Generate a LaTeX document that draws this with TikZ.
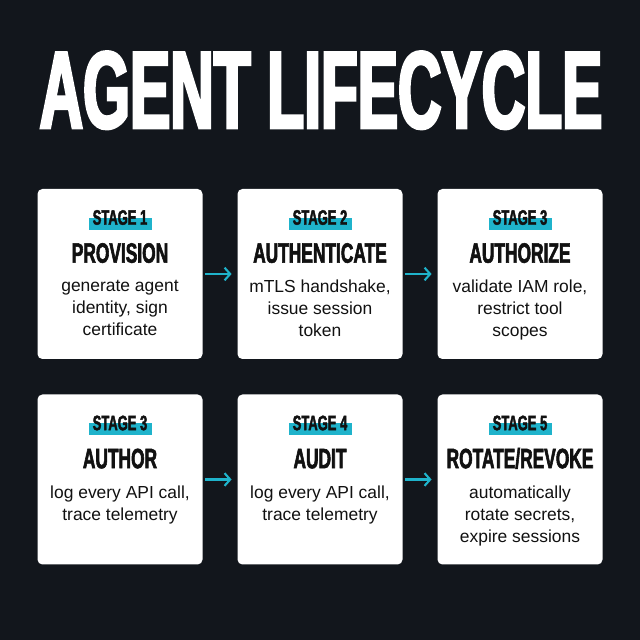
\documentclass[tikz,border=0pt]{standalone}
\usepackage{fontspec}
\setmainfont{Liberation Sans}
\newfontfamily\headfont{Liberation Sans}[FakeStretch=0.55,FakeBold=2.5]
\newfontfamily\stagefont{Liberation Sans}[FakeStretch=0.62,FakeBold=2]
\usepackage{tikz}
\usetikzlibrary{positioning, arrows.meta}
\definecolor{bgdark}{HTML}{12161C}
\definecolor{tealhl}{HTML}{1FB3CB}
\definecolor{inkdark}{HTML}{111111}
\tikzset{
	% white card
	card/.style={
		fill=white,
		rounded corners=3.5pt,
		minimum width=4.125cm,
		minimum height=4.25cm,
		inner sep=0pt
	}, %
	% small stage tag
	stagelbl/.style={
		anchor=base,
		inner sep=0pt,
		text=inkdark,
		font=\stagefont\bfseries\fontsize{14.9}{15}\selectfont
	}, %
	% stage name
	phase/.style={
		anchor=base,
		inner sep=0pt,
		text=inkdark,
		font=\stagefont\bfseries\fontsize{19.9}{20}\selectfont
	}, %
	% description
	note/.style={
		anchor=north,
		inner sep=0pt,
		align=center,
		text=inkdark,
		font=\fontsize{12.4}{15.65}\selectfont
	}, %
	% arrow between cards
	flow/.style={
		draw=tealhl,
		line width=1.5pt,
		-{Straight Barb[length=4pt,width=9pt]},
		shorten <=1.5pt,
		shorten >=4pt
	} %
}

\begin{document}
\begin{tikzpicture}
			% fondo
			\useasboundingbox (0,0) rectangle (16,16);
			\fill[bgdark] (0,0) rectangle (16,16);
			
			% titulo
			\node[anchor=base, inner sep=0pt, text=white, font=\headfont\bfseries\fontsize{78}{78}\selectfont] (title) at (8.025,12.8) {AGENT LIFECYCLE};
			
			% tarjetas
			\foreach \n/\x/\y/\s/\t/\d in {
				1/3/9.15/1/PROVISION/{generate agent\\identity, sign\\certificate},
				2/8/9.15/2/AUTHENTICATE/{mTLS handshake,\\issue session\\token},
				3/13/9.15/3/AUTHORIZE/{validate IAM role,\\restrict tool\\scopes},
				4/3/4.0125/3/AUTHOR/{log every API call,\\trace telemetry},
				5/8/4.0125/4/AUDIT/{log every API call,\\trace telemetry},
				6/13/4.0125/5/{ROTATE/REVOKE}/{automatically\\rotate secrets,\\expire sessions}}
			{
				\node[card] (b\n) at (\x,\y) {};
				\fill[tealhl] ([xshift=-0.775cm,yshift=-0.725cm]b\n.north) rectangle ([xshift=0.8cm,yshift=-1.025cm]b\n.north);
				\node[stagelbl] (s\n) at ([yshift=-0.9cm]b\n.north) {STAGE \s};
				\node[phase] (t\n) at ([yshift=-1.85cm]b\n.north) {\t};
				\node[note] (d\n) at ([yshift=-2.28cm]b\n.north) {\d};
			}
			
			% flechas
			\draw[flow] (b1.east) -- (b2.west);
			\draw[flow] (b2.east) -- (b3.west);
			\draw[flow] (b4.east) -- (b5.west);
			\draw[flow] (b5.east) -- (b6.west);
\end{tikzpicture}
\end{document}
